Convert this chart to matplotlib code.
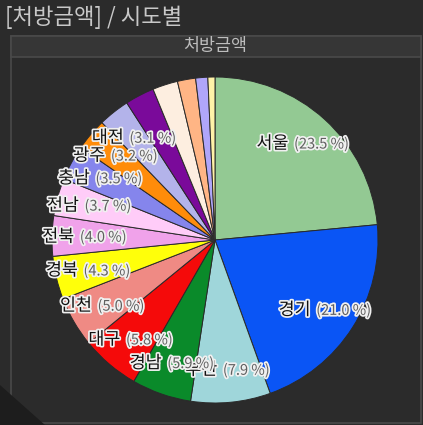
import numpy as np
import matplotlib.pyplot as plt
import matplotlib.patheffects as pe
from matplotlib.offsetbox import TextArea, HPacker, AnnotationBbox
from matplotlib.patches import Rectangle, Polygon

plt.rcParams['font.family'] = ['Noto Sans CJK KR', 'DejaVu Sans']

# 데이터
regions = ['서울', '경기', '부산', '경남', '대구', '인천', '경북', '전북', '전남',
           '충남', '광주', '대전', '충북', '강원', '울산', '제주', '세종']
shares = [23.5, 21.0, 7.9, 5.9, 5.8, 5.0, 4.3, 4.0, 3.7,
          3.5, 3.2, 3.1, 2.9, 2.5, 1.8, 1.2, 0.7]
colors = ['#93c993', '#0a55f5', '#9fd6da', '#0a8a2a', '#f50a0a', '#ef8a84',
          '#ffff0a', '#f0a2ea', '#ffccf8', '#8585ec', '#ff8c0a', '#b3b3ea',
          '#7a0a9a', '#fdeee0', '#ffb585', '#b0a6fa', '#fff2a8']

bg = '#2b2b2b'
fig = plt.figure(figsize=(4.23, 4.25), dpi=100, facecolor=bg)

# 패널 (축 아래에 그리도록 zorder 낮춤)
fig.patches.append(Rectangle((11/423, 2/425), 410/423, 387/425, transform=fig.transFigure,
                             facecolor=bg, edgecolor='#4a4a4a', linewidth=1.2, zorder=-3))
fig.patches.append(Rectangle((11/423, 368/425), 410/423, 21/425, transform=fig.transFigure,
                             facecolor='#363636', edgecolor='#4a4a4a', linewidth=1.2, zorder=-2))
fig.patches.append(Polygon([(0, 0), (0, 40/425), (45/423, 0)], closed=True,
                           transform=fig.transFigure, facecolor='#1d1d1d', edgecolor='none',
                           zorder=-1))

fig.text(5/423, 1 - 17/425, '[처방금액] / 시도별', color='#c8c8c8', fontsize=16, va='center')
fig.text(215/423, 1 - 46/425, '처방금액', color='#bdbdbd', fontsize=12.5, ha='center', va='center')

ax = fig.add_axes([52/423, 22/425, 326/423, 326/425])
ax.set_facecolor('none')
ax.set_zorder(1)
wedges, _ = ax.pie(shares, colors=colors, startangle=90, counterclock=False,
                   wedgeprops=dict(edgecolor='#2a2a2a', linewidth=0.7))
ax.set_xlim(-1, 1)
ax.set_ylim(-1, 1)
ax.axis('off')

halo = [pe.withStroke(linewidth=2.5, foreground='#f0f0f0')]
for w, name, v in zip(wedges, regions, shares):
    if v < 3.0:
        continue
    ang = np.deg2rad((w.theta1 + w.theta2) / 2)
    x, y = 0.8 * np.cos(ang), 0.8 * np.sin(ang)
    box = HPacker(children=[
        TextArea(name, textprops=dict(color='#111111', fontsize=12.5, path_effects=halo)),
        TextArea(f'({v:.1f} %)', textprops=dict(color='#606060', fontsize=10.5, path_effects=halo)),
    ], align='baseline', pad=0, sep=4)
    ab = AnnotationBbox(box, (x, y), frameon=False, box_alignment=(0.5, 0.5), pad=0)
    ax.add_artist(ab)

fig.savefig('out.png', dpi=100, facecolor=bg)
